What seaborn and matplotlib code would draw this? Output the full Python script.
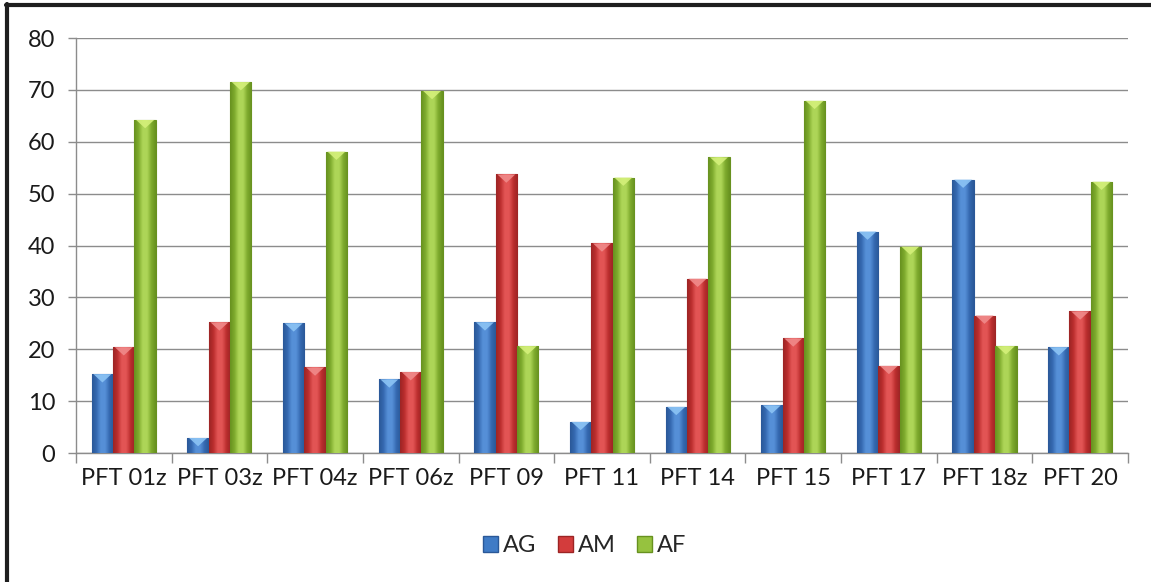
import numpy as np
import pandas as pd
import matplotlib
matplotlib.use("Agg")
import matplotlib.pyplot as plt
from matplotlib.colors import LinearSegmentedColormap
from matplotlib.patches import Polygon
from matplotlib.lines import Line2D
import seaborn as sns

# Data
categories = ["PFT 01z", "PFT 03z", "PFT 04z", "PFT 06z", "PFT 09", "PFT 11",
              "PFT 14", "PFT 15", "PFT 17", "PFT 18z", "PFT 20"]
series_names = ["AG", "AM", "AF"]
ag_values = [15.2, 2.9, 25.0, 14.2, 25.2, 6.0, 8.9, 9.2, 42.7, 52.7, 20.4]
am_values = [20.4, 25.2, 16.5, 15.6, 53.7, 40.4, 33.6, 22.1, 16.8, 26.5, 27.3]
af_values = [64.2, 71.5, 58.1, 69.8, 20.6, 53.1, 57.0, 67.9, 39.8, 20.6, 52.3]
y_ticks = [0, 10, 20, 30, 40, 50, 60, 70, 80]

df = pd.DataFrame({
    "category": categories * 3,
    "series": [s for s in series_names for _ in categories],
    "value": ag_values + am_values + af_values,
})

base_colors = {"AG": "#3f7bc6", "AM": "#d33c3c", "AF": "#96c23f"}
shade = {
    "AG": ("#2a5898", "#5690d8", "#3569b0"),
    "AM": ("#9c2424", "#e35555", "#bb2e2e"),
    "AF": ("#67911f", "#aed658", "#7eaa2d"),
}
tip = {"AG": "#8cc4f5", "AM": "#f08a8a", "AF": "#d4f07a"}

sns.set_theme(style="white")
plt.rcParams["font.family"] = ["Lato", "DejaVu Sans"]
FS = 17

fig = plt.figure(figsize=(11.51, 5.82), dpi=100)
ax = fig.add_axes([0.066, 0.2216, 0.914, 0.7131])

sns.barplot(data=df, x="category", y="value", hue="series",
            hue_order=series_names, order=categories,
            palette=base_colors, width=0.67, gap=0, ax=ax,
            legend=False, saturation=1, zorder=3)

# Cylinder-like shading and a light chevron at each bar top
n = len(categories)
for i, patch in enumerate(ax.patches[:3 * n]):
    s = series_names[i // n]
    x0, y0 = patch.get_x(), patch.get_y()
    w, h = patch.get_width(), patch.get_height()
    dark, light, mid = shade[s]
    cmap = LinearSegmentedColormap.from_list(
        s, [dark, mid, light, light, mid, dark])
    grad = np.linspace(0, 1, 64).reshape(1, -1)
    im = ax.imshow(grad, cmap=cmap, aspect="auto",
                   extent=(x0, x0 + w, y0, y0 + h), zorder=3.5,
                   interpolation="bicubic")
    im.set_clip_path(patch)
    patch.set_edgecolor(dark)
    patch.set_linewidth(0.8)
    th = 1.6
    tri = Polygon([(x0 + w * 0.08, y0 + h), (x0 + w * 0.92, y0 + h),
                   (x0 + w / 2, y0 + h - th)], closed=True,
                  facecolor=tip[s], edgecolor="none", alpha=0.9, zorder=4)
    ax.add_patch(tri)

ax.set_xlim(-0.5, n - 0.5)
ax.set_ylim(0, 80)
ax.set_yticks(y_ticks)
ax.set_xlabel("")
ax.set_ylabel("")
ax.grid(axis="y", color="#8c8c8c", linewidth=1.0, zorder=0)
ax.set_axisbelow(True)

for side in ["top", "right"]:
    ax.spines[side].set_visible(False)
for side in ["left", "bottom"]:
    ax.spines[side].set_color("#8c8c8c")
    ax.spines[side].set_linewidth(1.0)

ax.tick_params(axis="y", which="major", length=6, width=1.0, color="#8c8c8c",
               left=True, labelsize=FS, labelcolor="#1a1a1a", pad=9)
ax.set_xticks(np.arange(-0.5, n, 1.0), minor=True)
ax.tick_params(axis="x", which="major", length=0, labelsize=FS,
               labelcolor="#1a1a1a", pad=11)
ax.tick_params(axis="x", which="minor", length=7, width=1.0,
               color="#8c8c8c", bottom=True)

# Legend below the plot
handles = [plt.Rectangle((0, 0), 1, 1, facecolor=base_colors[s],
                         edgecolor=shade[s][0]) for s in series_names]
fig.legend(handles, series_names, loc="center", bbox_to_anchor=(0.508, 0.062),
           ncol=3, frameon=False, fontsize=FS, handlelength=0.65,
           handleheight=0.65, handletextpad=0.2, columnspacing=0.9)

# Dark frame on the top and left edges
fig.add_artist(Line2D([0.0055, 1.0], [0.9915, 0.9915], color="#1e1e1e",
                      linewidth=3.0, transform=fig.transFigure))
fig.add_artist(Line2D([0.0065, 0.0065], [0.0, 0.993], color="#1e1e1e",
                      linewidth=3.0, transform=fig.transFigure))

fig.savefig("out.png", dpi=100)
